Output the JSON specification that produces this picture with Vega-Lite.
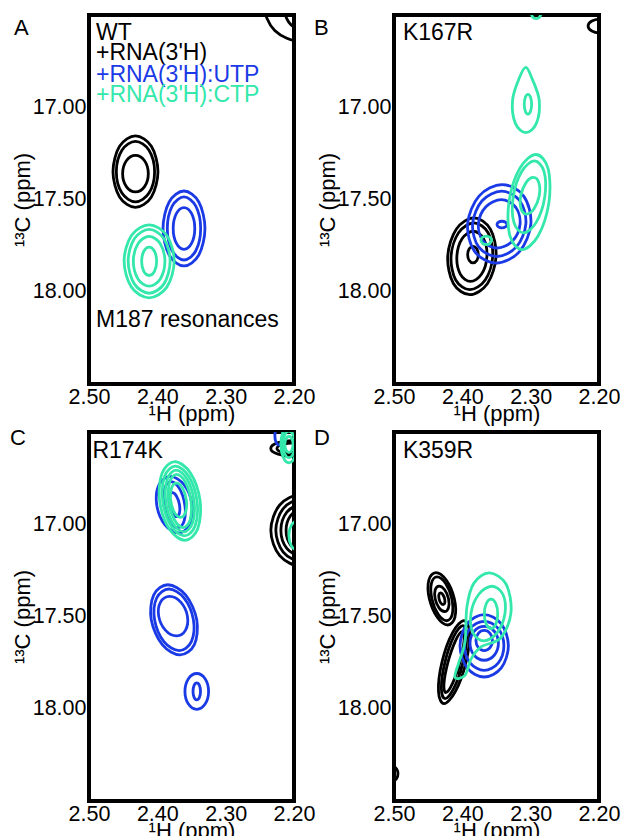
{
"$schema": "https://vega.github.io/schema/vega-lite/v6.json",
"padding": {"left": 8, "top": 13, "right": 0, "bottom": 0},
"background": "white",
"data": {"values": [
{"p":"A","k":"c","s":"apo","r":"A1","i":0,"h":2.3991,"c":17.349},{"p":"A","k":"c","s":"apo","r":"A1","i":1,"h":2.4087,"c":17.4862},{"p":"A","k":"c","s":"apo","r":"A1","i":2,"h":2.432,"c":17.543},{"p":"A","k":"c","s":"apo","r":"A1","i":3,"h":2.4553,"c":17.4862},{"p":"A","k":"c","s":"apo","r":"A1","i":4,"h":2.4649,"c":17.349},{"p":"A","k":"c","s":"apo","r":"A1","i":5,"h":2.4553,"c":17.2118},{"p":"A","k":"c","s":"apo","r":"A1","i":6,"h":2.432,"c":17.155},{"p":"A","k":"c","s":"apo","r":"A1","i":7,"h":2.4087,"c":17.2118},
{"p":"A","k":"c","s":"apo","r":"A2","i":0,"h":2.404,"c":17.349},{"p":"A","k":"c","s":"apo","r":"A2","i":1,"h":2.4122,"c":17.465},{"p":"A","k":"c","s":"apo","r":"A2","i":2,"h":2.432,"c":17.513},{"p":"A","k":"c","s":"apo","r":"A2","i":3,"h":2.4518,"c":17.465},{"p":"A","k":"c","s":"apo","r":"A2","i":4,"h":2.46,"c":17.349},{"p":"A","k":"c","s":"apo","r":"A2","i":5,"h":2.4518,"c":17.233},{"p":"A","k":"c","s":"apo","r":"A2","i":6,"h":2.432,"c":17.185},{"p":"A","k":"c","s":"apo","r":"A2","i":7,"h":2.4122,"c":17.233},
{"p":"A","k":"c","s":"apo","r":"A3","i":0,"h":2.4132,"c":17.36},{"p":"A","k":"c","s":"apo","r":"A3","i":1,"h":2.4187,"c":17.43},{"p":"A","k":"c","s":"apo","r":"A3","i":2,"h":2.432,"c":17.459},{"p":"A","k":"c","s":"apo","r":"A3","i":3,"h":2.4453,"c":17.43},{"p":"A","k":"c","s":"apo","r":"A3","i":4,"h":2.4508,"c":17.36},{"p":"A","k":"c","s":"apo","r":"A3","i":5,"h":2.4453,"c":17.29},{"p":"A","k":"c","s":"apo","r":"A3","i":6,"h":2.432,"c":17.261},{"p":"A","k":"c","s":"apo","r":"A3","i":7,"h":2.4187,"c":17.29},
{"p":"A","k":"c","s":"apo","r":"A4","i":0,"h":2.136,"c":16.443},{"p":"A","k":"c","s":"apo","r":"A4","i":1,"h":2.1518,"c":16.5844},{"p":"A","k":"c","s":"apo","r":"A4","i":2,"h":2.19,"c":16.643},{"p":"A","k":"c","s":"apo","r":"A4","i":3,"h":2.2282,"c":16.5844},{"p":"A","k":"c","s":"apo","r":"A4","i":4,"h":2.244,"c":16.443},{"p":"A","k":"c","s":"apo","r":"A4","i":5,"h":2.2282,"c":16.3016},{"p":"A","k":"c","s":"apo","r":"A4","i":6,"h":2.19,"c":16.243},{"p":"A","k":"c","s":"apo","r":"A4","i":7,"h":2.1518,"c":16.3016},
{"p":"A","k":"c","s":"apo","r":"A5","i":0,"h":2.165,"c":16.443},{"p":"A","k":"c","s":"apo","r":"A5","i":1,"h":2.1723,"c":16.5384},{"p":"A","k":"c","s":"apo","r":"A5","i":2,"h":2.19,"c":16.578},{"p":"A","k":"c","s":"apo","r":"A5","i":3,"h":2.2077,"c":16.5384},{"p":"A","k":"c","s":"apo","r":"A5","i":4,"h":2.215,"c":16.443},{"p":"A","k":"c","s":"apo","r":"A5","i":5,"h":2.2077,"c":16.3476},{"p":"A","k":"c","s":"apo","r":"A5","i":6,"h":2.19,"c":16.308},{"p":"A","k":"c","s":"apo","r":"A5","i":7,"h":2.1723,"c":16.3476},
{"p":"A","k":"c","s":"UTP","r":"A6","i":0,"h":2.3303,"c":17.657},{"p":"A","k":"c","s":"UTP","r":"A6","i":1,"h":2.3393,"c":17.8005},{"p":"A","k":"c","s":"UTP","r":"A6","i":2,"h":2.361,"c":17.86},{"p":"A","k":"c","s":"UTP","r":"A6","i":3,"h":2.3827,"c":17.8005},{"p":"A","k":"c","s":"UTP","r":"A6","i":4,"h":2.3917,"c":17.657},{"p":"A","k":"c","s":"UTP","r":"A6","i":5,"h":2.3827,"c":17.5135},{"p":"A","k":"c","s":"UTP","r":"A6","i":6,"h":2.361,"c":17.454},{"p":"A","k":"c","s":"UTP","r":"A6","i":7,"h":2.3393,"c":17.5135},
{"p":"A","k":"c","s":"UTP","r":"A7","i":0,"h":2.3366,"c":17.657},{"p":"A","k":"c","s":"UTP","r":"A7","i":1,"h":2.3437,"c":17.7779},{"p":"A","k":"c","s":"UTP","r":"A7","i":2,"h":2.361,"c":17.828},{"p":"A","k":"c","s":"UTP","r":"A7","i":3,"h":2.3783,"c":17.7779},{"p":"A","k":"c","s":"UTP","r":"A7","i":4,"h":2.3854,"c":17.657},{"p":"A","k":"c","s":"UTP","r":"A7","i":5,"h":2.3783,"c":17.5361},{"p":"A","k":"c","s":"UTP","r":"A7","i":6,"h":2.361,"c":17.486},{"p":"A","k":"c","s":"UTP","r":"A7","i":7,"h":2.3437,"c":17.5361},
{"p":"A","k":"c","s":"UTP","r":"A8","i":0,"h":2.3452,"c":17.657},{"p":"A","k":"c","s":"UTP","r":"A8","i":1,"h":2.3498,"c":17.7369},{"p":"A","k":"c","s":"UTP","r":"A8","i":2,"h":2.361,"c":17.77},{"p":"A","k":"c","s":"UTP","r":"A8","i":3,"h":2.3722,"c":17.7369},{"p":"A","k":"c","s":"UTP","r":"A8","i":4,"h":2.3768,"c":17.657},{"p":"A","k":"c","s":"UTP","r":"A8","i":5,"h":2.3722,"c":17.5771},{"p":"A","k":"c","s":"UTP","r":"A8","i":6,"h":2.361,"c":17.544},{"p":"A","k":"c","s":"UTP","r":"A8","i":7,"h":2.3498,"c":17.5771},
{"p":"A","k":"c","s":"CTP","r":"A9","i":0,"h":2.3754,"c":17.835},{"p":"A","k":"c","s":"CTP","r":"A9","i":1,"h":2.3861,"c":17.975},{"p":"A","k":"c","s":"CTP","r":"A9","i":2,"h":2.412,"c":18.033},{"p":"A","k":"c","s":"CTP","r":"A9","i":3,"h":2.4379,"c":17.975},{"p":"A","k":"c","s":"CTP","r":"A9","i":4,"h":2.4486,"c":17.835},{"p":"A","k":"c","s":"CTP","r":"A9","i":5,"h":2.4379,"c":17.695},{"p":"A","k":"c","s":"CTP","r":"A9","i":6,"h":2.412,"c":17.637},{"p":"A","k":"c","s":"CTP","r":"A9","i":7,"h":2.3861,"c":17.695},
{"p":"A","k":"c","s":"CTP","r":"A10","i":0,"h":2.3813,"c":17.835},{"p":"A","k":"c","s":"CTP","r":"A10","i":1,"h":2.3903,"c":17.9573},{"p":"A","k":"c","s":"CTP","r":"A10","i":2,"h":2.412,"c":18.008},{"p":"A","k":"c","s":"CTP","r":"A10","i":3,"h":2.4337,"c":17.9573},{"p":"A","k":"c","s":"CTP","r":"A10","i":4,"h":2.4427,"c":17.835},{"p":"A","k":"c","s":"CTP","r":"A10","i":5,"h":2.4337,"c":17.7127},{"p":"A","k":"c","s":"CTP","r":"A10","i":6,"h":2.412,"c":17.662},{"p":"A","k":"c","s":"CTP","r":"A10","i":7,"h":2.3903,"c":17.7127},
{"p":"A","k":"c","s":"CTP","r":"A11","i":0,"h":2.3889,"c":17.835},{"p":"A","k":"c","s":"CTP","r":"A11","i":1,"h":2.3957,"c":17.9304},{"p":"A","k":"c","s":"CTP","r":"A11","i":2,"h":2.412,"c":17.97},{"p":"A","k":"c","s":"CTP","r":"A11","i":3,"h":2.4283,"c":17.9304},{"p":"A","k":"c","s":"CTP","r":"A11","i":4,"h":2.4351,"c":17.835},{"p":"A","k":"c","s":"CTP","r":"A11","i":5,"h":2.4283,"c":17.7396},{"p":"A","k":"c","s":"CTP","r":"A11","i":6,"h":2.412,"c":17.7},{"p":"A","k":"c","s":"CTP","r":"A11","i":7,"h":2.3957,"c":17.7396},
{"p":"A","k":"c","s":"CTP","r":"A12","i":0,"h":2.401,"c":17.835},{"p":"A","k":"c","s":"CTP","r":"A12","i":1,"h":2.4042,"c":17.8894},{"p":"A","k":"c","s":"CTP","r":"A12","i":2,"h":2.412,"c":17.912},{"p":"A","k":"c","s":"CTP","r":"A12","i":3,"h":2.4198,"c":17.8894},{"p":"A","k":"c","s":"CTP","r":"A12","i":4,"h":2.423,"c":17.835},{"p":"A","k":"c","s":"CTP","r":"A12","i":5,"h":2.4198,"c":17.7806},{"p":"A","k":"c","s":"CTP","r":"A12","i":6,"h":2.412,"c":17.758},{"p":"A","k":"c","s":"CTP","r":"A12","i":7,"h":2.4042,"c":17.7806},
{"p":"B","k":"c","s":"apo","r":"B1","i":0,"h":2.3506,"c":17.808},{"p":"B","k":"c","s":"apo","r":"B1","i":1,"h":2.3631,"c":17.9551},{"p":"B","k":"c","s":"apo","r":"B1","i":2,"h":2.389,"c":18.016},{"p":"B","k":"c","s":"apo","r":"B1","i":3,"h":2.4131,"c":17.9551},{"p":"B","k":"c","s":"apo","r":"B1","i":4,"h":2.4214,"c":17.808},{"p":"B","k":"c","s":"apo","r":"B1","i":5,"h":2.4089,"c":17.6609},{"p":"B","k":"c","s":"apo","r":"B1","i":6,"h":2.383,"c":17.6},{"p":"B","k":"c","s":"apo","r":"B1","i":7,"h":2.3589,"c":17.6609},
{"p":"B","k":"c","s":"apo","r":"B2","i":0,"h":2.3555,"c":17.808},{"p":"B","k":"c","s":"apo","r":"B2","i":1,"h":2.3665,"c":17.936},{"p":"B","k":"c","s":"apo","r":"B2","i":2,"h":2.389,"c":17.989},{"p":"B","k":"c","s":"apo","r":"B2","i":3,"h":2.4097,"c":17.936},{"p":"B","k":"c","s":"apo","r":"B2","i":4,"h":2.4165,"c":17.808},{"p":"B","k":"c","s":"apo","r":"B2","i":5,"h":2.4055,"c":17.68},{"p":"B","k":"c","s":"apo","r":"B2","i":6,"h":2.383,"c":17.627},{"p":"B","k":"c","s":"apo","r":"B2","i":7,"h":2.3623,"c":17.68},
{"p":"B","k":"c","s":"apo","r":"B3","i":0,"h":2.364,"c":17.808},{"p":"B","k":"c","s":"apo","r":"B3","i":1,"h":2.3718,"c":17.9042},{"p":"B","k":"c","s":"apo","r":"B3","i":2,"h":2.388,"c":17.944},{"p":"B","k":"c","s":"apo","r":"B3","i":3,"h":2.403,"c":17.9042},{"p":"B","k":"c","s":"apo","r":"B3","i":4,"h":2.408,"c":17.808},{"p":"B","k":"c","s":"apo","r":"B3","i":5,"h":2.4002,"c":17.7118},{"p":"B","k":"c","s":"apo","r":"B3","i":6,"h":2.384,"c":17.672},{"p":"B","k":"c","s":"apo","r":"B3","i":7,"h":2.369,"c":17.7118},
{"p":"B","k":"c","s":"apo","r":"B4","i":0,"h":2.3766,"c":17.799},{"p":"B","k":"c","s":"apo","r":"B4","i":1,"h":2.3789,"c":17.8308},{"p":"B","k":"c","s":"apo","r":"B4","i":2,"h":2.3844,"c":17.844},{"p":"B","k":"c","s":"apo","r":"B4","i":3,"h":2.3899,"c":17.8308},{"p":"B","k":"c","s":"apo","r":"B4","i":4,"h":2.3922,"c":17.799},{"p":"B","k":"c","s":"apo","r":"B4","i":5,"h":2.3899,"c":17.7672},{"p":"B","k":"c","s":"apo","r":"B4","i":6,"h":2.3844,"c":17.754},{"p":"B","k":"c","s":"apo","r":"B4","i":7,"h":2.3789,"c":17.7672},
{"p":"B","k":"c","s":"apo","r":"B5","i":0,"h":2.178,"c":16.56},{"p":"B","k":"c","s":"apo","r":"B5","i":1,"h":2.1836,"c":16.5869},{"p":"B","k":"c","s":"apo","r":"B5","i":2,"h":2.197,"c":16.598},{"p":"B","k":"c","s":"apo","r":"B5","i":3,"h":2.2104,"c":16.5869},{"p":"B","k":"c","s":"apo","r":"B5","i":4,"h":2.216,"c":16.56},{"p":"B","k":"c","s":"apo","r":"B5","i":5,"h":2.2104,"c":16.5331},{"p":"B","k":"c","s":"apo","r":"B5","i":6,"h":2.197,"c":16.522},{"p":"B","k":"c","s":"apo","r":"B5","i":7,"h":2.1836,"c":16.5331},
{"p":"B","k":"c","s":"UTP","r":"B6","i":0,"h":2.2997,"c":17.632},{"p":"B","k":"c","s":"UTP","r":"B6","i":1,"h":2.3164,"c":17.7826},{"p":"B","k":"c","s":"UTP","r":"B6","i":2,"h":2.3504,"c":17.845},{"p":"B","k":"c","s":"UTP","r":"B6","i":3,"h":2.3818,"c":17.7826},{"p":"B","k":"c","s":"UTP","r":"B6","i":4,"h":2.3923,"c":17.632},{"p":"B","k":"c","s":"UTP","r":"B6","i":5,"h":2.3756,"c":17.4814},{"p":"B","k":"c","s":"UTP","r":"B6","i":6,"h":2.3416,"c":17.419},{"p":"B","k":"c","s":"UTP","r":"B6","i":7,"h":2.3102,"c":17.4814},
{"p":"B","k":"c","s":"UTP","r":"B7","i":0,"h":2.307,"c":17.632},{"p":"B","k":"c","s":"UTP","r":"B7","i":1,"h":2.3209,"c":17.7571},{"p":"B","k":"c","s":"UTP","r":"B7","i":2,"h":2.3495,"c":17.809},{"p":"B","k":"c","s":"UTP","r":"B7","i":3,"h":2.3761,"c":17.7571},{"p":"B","k":"c","s":"UTP","r":"B7","i":4,"h":2.385,"c":17.632},{"p":"B","k":"c","s":"UTP","r":"B7","i":5,"h":2.3711,"c":17.5069},{"p":"B","k":"c","s":"UTP","r":"B7","i":6,"h":2.3425,"c":17.455},{"p":"B","k":"c","s":"UTP","r":"B7","i":7,"h":2.3159,"c":17.5069},
{"p":"B","k":"c","s":"UTP","r":"B8","i":0,"h":2.3155,"c":17.632},{"p":"B","k":"c","s":"UTP","r":"B8","i":1,"h":2.3265,"c":17.7246},{"p":"B","k":"c","s":"UTP","r":"B8","i":2,"h":2.349,"c":17.763},{"p":"B","k":"c","s":"UTP","r":"B8","i":3,"h":2.3697,"c":17.7246},{"p":"B","k":"c","s":"UTP","r":"B8","i":4,"h":2.3765,"c":17.632},{"p":"B","k":"c","s":"UTP","r":"B8","i":5,"h":2.3655,"c":17.5394},{"p":"B","k":"c","s":"UTP","r":"B8","i":6,"h":2.343,"c":17.501},{"p":"B","k":"c","s":"UTP","r":"B8","i":7,"h":2.3223,"c":17.5394},
{"p":"B","k":"c","s":"UTP","r":"B9","i":0,"h":2.3347,"c":17.636},{"p":"B","k":"c","s":"UTP","r":"B9","i":1,"h":2.3368,"c":17.6487},{"p":"B","k":"c","s":"UTP","r":"B9","i":2,"h":2.342,"c":17.654},{"p":"B","k":"c","s":"UTP","r":"B9","i":3,"h":2.3472,"c":17.6487},{"p":"B","k":"c","s":"UTP","r":"B9","i":4,"h":2.3493,"c":17.636},{"p":"B","k":"c","s":"UTP","r":"B9","i":5,"h":2.3472,"c":17.6233},{"p":"B","k":"c","s":"UTP","r":"B9","i":6,"h":2.342,"c":17.618},{"p":"B","k":"c","s":"UTP","r":"B9","i":7,"h":2.3368,"c":17.6233},
{"p":"B","k":"c","s":"CTP","r":"B10","i":0,"h":2.2875,"c":16.961},{"p":"B","k":"c","s":"CTP","r":"B10","i":1,"h":2.2915,"c":17.0861},{"p":"B","k":"c","s":"CTP","r":"B10","i":2,"h":2.307,"c":17.138},{"p":"B","k":"c","s":"CTP","r":"B10","i":3,"h":2.3225,"c":17.0861},{"p":"B","k":"c","s":"CTP","r":"B10","i":4,"h":2.3265,"c":16.961},{"p":"B","k":"c","s":"CTP","r":"B10","i":5,"h":2.3165,"c":16.84},{"p":"B","k":"c","s":"CTP","r":"B10","i":6,"h":2.307,"c":16.784},{"p":"B","k":"c","s":"CTP","r":"B10","i":7,"h":2.2985,"c":16.84},
{"p":"B","k":"c","s":"CTP","r":"B11","i":0,"h":2.2986,"c":16.984},{"p":"B","k":"c","s":"CTP","r":"B11","i":1,"h":2.3002,"c":17.0222},{"p":"B","k":"c","s":"CTP","r":"B11","i":2,"h":2.304,"c":17.038},{"p":"B","k":"c","s":"CTP","r":"B11","i":3,"h":2.3078,"c":17.0222},{"p":"B","k":"c","s":"CTP","r":"B11","i":4,"h":2.3094,"c":16.984},{"p":"B","k":"c","s":"CTP","r":"B11","i":5,"h":2.3078,"c":16.9458},{"p":"B","k":"c","s":"CTP","r":"B11","i":6,"h":2.304,"c":16.93},{"p":"B","k":"c","s":"CTP","r":"B11","i":7,"h":2.3002,"c":16.9458},
{"p":"B","k":"c","s":"CTP","r":"B12","i":0,"h":2.2732,"c":17.514},{"p":"B","k":"c","s":"CTP","r":"B12","i":1,"h":2.289,"c":17.6964},{"p":"B","k":"c","s":"CTP","r":"B12","i":2,"h":2.3127,"c":17.772},{"p":"B","k":"c","s":"CTP","r":"B12","i":3,"h":2.3304,"c":17.6964},{"p":"B","k":"c","s":"CTP","r":"B12","i":4,"h":2.3318,"c":17.514},{"p":"B","k":"c","s":"CTP","r":"B12","i":5,"h":2.316,"c":17.3316},{"p":"B","k":"c","s":"CTP","r":"B12","i":6,"h":2.2923,"c":17.256},{"p":"B","k":"c","s":"CTP","r":"B12","i":7,"h":2.2746,"c":17.3316},
{"p":"B","k":"c","s":"CTP","r":"B13","i":0,"h":2.2794,"c":17.486},{"p":"B","k":"c","s":"CTP","r":"B13","i":1,"h":2.2919,"c":17.6239},{"p":"B","k":"c","s":"CTP","r":"B13","i":2,"h":2.3105,"c":17.681},{"p":"B","k":"c","s":"CTP","r":"B13","i":3,"h":2.3245,"c":17.6239},{"p":"B","k":"c","s":"CTP","r":"B13","i":4,"h":2.3256,"c":17.486},{"p":"B","k":"c","s":"CTP","r":"B13","i":5,"h":2.3131,"c":17.3481},{"p":"B","k":"c","s":"CTP","r":"B13","i":6,"h":2.2945,"c":17.291},{"p":"B","k":"c","s":"CTP","r":"B13","i":7,"h":2.2805,"c":17.3481},
{"p":"B","k":"c","s":"CTP","r":"B14","i":0,"h":2.2875,"c":17.48},{"p":"B","k":"c","s":"CTP","r":"B14","i":1,"h":2.295,"c":17.5503},{"p":"B","k":"c","s":"CTP","r":"B14","i":2,"h":2.306,"c":17.5795},{"p":"B","k":"c","s":"CTP","r":"B14","i":3,"h":2.314,"c":17.5503},{"p":"B","k":"c","s":"CTP","r":"B14","i":4,"h":2.3145,"c":17.48},{"p":"B","k":"c","s":"CTP","r":"B14","i":5,"h":2.307,"c":17.4097},{"p":"B","k":"c","s":"CTP","r":"B14","i":6,"h":2.296,"c":17.3805},{"p":"B","k":"c","s":"CTP","r":"B14","i":7,"h":2.288,"c":17.4097},
{"p":"B","k":"c","s":"CTP","r":"B15","i":0,"h":2.3572,"c":17.721},{"p":"B","k":"c","s":"CTP","r":"B15","i":1,"h":2.3595,"c":17.7373},{"p":"B","k":"c","s":"CTP","r":"B15","i":2,"h":2.365,"c":17.744},{"p":"B","k":"c","s":"CTP","r":"B15","i":3,"h":2.3705,"c":17.7373},{"p":"B","k":"c","s":"CTP","r":"B15","i":4,"h":2.3728,"c":17.721},{"p":"B","k":"c","s":"CTP","r":"B15","i":5,"h":2.3705,"c":17.7047},{"p":"B","k":"c","s":"CTP","r":"B15","i":6,"h":2.365,"c":17.698},{"p":"B","k":"c","s":"CTP","r":"B15","i":7,"h":2.3595,"c":17.7047},
{"p":"B","k":"c","s":"CTP","r":"B16","i":0,"h":2.285,"c":16.49},{"p":"B","k":"c","s":"CTP","r":"B16","i":1,"h":2.287,"c":16.5112},{"p":"B","k":"c","s":"CTP","r":"B16","i":2,"h":2.292,"c":16.52},{"p":"B","k":"c","s":"CTP","r":"B16","i":3,"h":2.297,"c":16.5112},{"p":"B","k":"c","s":"CTP","r":"B16","i":4,"h":2.299,"c":16.49},{"p":"B","k":"c","s":"CTP","r":"B16","i":5,"h":2.297,"c":16.4688},{"p":"B","k":"c","s":"CTP","r":"B16","i":6,"h":2.292,"c":16.46},{"p":"B","k":"c","s":"CTP","r":"B16","i":7,"h":2.287,"c":16.4688},
{"p":"C","k":"c","s":"apo","r":"C1","i":0,"h":2.1453,"c":17.033},{"p":"C","k":"c","s":"apo","r":"C1","i":1,"h":2.1583,"c":17.1702},{"p":"C","k":"c","s":"apo","r":"C1","i":2,"h":2.1896,"c":17.227},{"p":"C","k":"c","s":"apo","r":"C1","i":3,"h":2.2209,"c":17.1702},{"p":"C","k":"c","s":"apo","r":"C1","i":4,"h":2.2339,"c":17.033},{"p":"C","k":"c","s":"apo","r":"C1","i":5,"h":2.2209,"c":16.8958},{"p":"C","k":"c","s":"apo","r":"C1","i":6,"h":2.1896,"c":16.839},{"p":"C","k":"c","s":"apo","r":"C1","i":7,"h":2.1583,"c":16.8958},
{"p":"C","k":"c","s":"apo","r":"C2","i":0,"h":2.1526,"c":17.033},{"p":"C","k":"c","s":"apo","r":"C2","i":1,"h":2.1634,"c":17.1511},{"p":"C","k":"c","s":"apo","r":"C2","i":2,"h":2.1896,"c":17.2},{"p":"C","k":"c","s":"apo","r":"C2","i":3,"h":2.2158,"c":17.1511},{"p":"C","k":"c","s":"apo","r":"C2","i":4,"h":2.2266,"c":17.033},{"p":"C","k":"c","s":"apo","r":"C2","i":5,"h":2.2158,"c":16.9149},{"p":"C","k":"c","s":"apo","r":"C2","i":6,"h":2.1896,"c":16.866},{"p":"C","k":"c","s":"apo","r":"C2","i":7,"h":2.1634,"c":16.9149},
{"p":"C","k":"c","s":"apo","r":"C3","i":0,"h":2.16,"c":17.033},{"p":"C","k":"c","s":"apo","r":"C3","i":1,"h":2.1687,"c":17.1313},{"p":"C","k":"c","s":"apo","r":"C3","i":2,"h":2.1896,"c":17.172},{"p":"C","k":"c","s":"apo","r":"C3","i":3,"h":2.2105,"c":17.1313},{"p":"C","k":"c","s":"apo","r":"C3","i":4,"h":2.2192,"c":17.033},{"p":"C","k":"c","s":"apo","r":"C3","i":5,"h":2.2105,"c":16.9347},{"p":"C","k":"c","s":"apo","r":"C3","i":6,"h":2.1896,"c":16.894},{"p":"C","k":"c","s":"apo","r":"C3","i":7,"h":2.1687,"c":16.9347},
{"p":"C","k":"c","s":"apo","r":"C4","i":0,"h":2.1676,"c":17.033},{"p":"C","k":"c","s":"apo","r":"C4","i":1,"h":2.174,"c":17.1115},{"p":"C","k":"c","s":"apo","r":"C4","i":2,"h":2.1896,"c":17.144},{"p":"C","k":"c","s":"apo","r":"C4","i":3,"h":2.2052,"c":17.1115},{"p":"C","k":"c","s":"apo","r":"C4","i":4,"h":2.2116,"c":17.033},{"p":"C","k":"c","s":"apo","r":"C4","i":5,"h":2.2052,"c":16.9545},{"p":"C","k":"c","s":"apo","r":"C4","i":6,"h":2.1896,"c":16.922},{"p":"C","k":"c","s":"apo","r":"C4","i":7,"h":2.174,"c":16.9545},
{"p":"C","k":"c","s":"apo","r":"C5","i":0,"h":2.16,"c":16.589},{"p":"C","k":"c","s":"apo","r":"C5","i":1,"h":2.1708,"c":16.6201},{"p":"C","k":"c","s":"apo","r":"C5","i":2,"h":2.197,"c":16.633},{"p":"C","k":"c","s":"apo","r":"C5","i":3,"h":2.2232,"c":16.6201},{"p":"C","k":"c","s":"apo","r":"C5","i":4,"h":2.234,"c":16.589},{"p":"C","k":"c","s":"apo","r":"C5","i":5,"h":2.2232,"c":16.5579},{"p":"C","k":"c","s":"apo","r":"C5","i":6,"h":2.197,"c":16.545},{"p":"C","k":"c","s":"apo","r":"C5","i":7,"h":2.1708,"c":16.5579},
{"p":"C","k":"c","s":"apo","r":"C6","i":0,"h":2.169,"c":16.589},{"p":"C","k":"c","s":"apo","r":"C6","i":1,"h":2.1772,"c":16.6102},{"p":"C","k":"c","s":"apo","r":"C6","i":2,"h":2.197,"c":16.619},{"p":"C","k":"c","s":"apo","r":"C6","i":3,"h":2.2168,"c":16.6102},{"p":"C","k":"c","s":"apo","r":"C6","i":4,"h":2.225,"c":16.589},{"p":"C","k":"c","s":"apo","r":"C6","i":5,"h":2.2168,"c":16.5678},{"p":"C","k":"c","s":"apo","r":"C6","i":6,"h":2.197,"c":16.559},{"p":"C","k":"c","s":"apo","r":"C6","i":7,"h":2.1772,"c":16.5678},
{"p":"C","k":"c","s":"UTP","r":"C7","i":0,"h":2.3491,"c":16.894},{"p":"C","k":"c","s":"UTP","r":"C7","i":1,"h":2.3525,"c":17.0022},{"p":"C","k":"c","s":"UTP","r":"C7","i":2,"h":2.3691,"c":17.047},{"p":"C","k":"c","s":"UTP","r":"C7","i":3,"h":2.3891,"c":17.0022},{"p":"C","k":"c","s":"UTP","r":"C7","i":4,"h":2.4009,"c":16.894},{"p":"C","k":"c","s":"UTP","r":"C7","i":5,"h":2.3975,"c":16.7858},{"p":"C","k":"c","s":"UTP","r":"C7","i":6,"h":2.3809,"c":16.741},{"p":"C","k":"c","s":"UTP","r":"C7","i":7,"h":2.3609,"c":16.7858},
{"p":"C","k":"c","s":"UTP","r":"C8","i":0,"h":2.3598,"c":16.894},{"p":"C","k":"c","s":"UTP","r":"C8","i":1,"h":2.3608,"c":16.9824},{"p":"C","k":"c","s":"UTP","r":"C8","i":2,"h":2.37,"c":17.019},{"p":"C","k":"c","s":"UTP","r":"C8","i":3,"h":2.3822,"c":16.9824},{"p":"C","k":"c","s":"UTP","r":"C8","i":4,"h":2.3902,"c":16.894},{"p":"C","k":"c","s":"UTP","r":"C8","i":5,"h":2.3892,"c":16.8056},{"p":"C","k":"c","s":"UTP","r":"C8","i":6,"h":2.38,"c":16.769},{"p":"C","k":"c","s":"UTP","r":"C8","i":7,"h":2.3678,"c":16.8056},
{"p":"C","k":"c","s":"UTP","r":"C9","i":0,"h":2.3676,"c":16.894},{"p":"C","k":"c","s":"UTP","r":"C9","i":1,"h":2.3677,"c":16.94},{"p":"C","k":"c","s":"UTP","r":"C9","i":2,"h":2.372,"c":16.959},{"p":"C","k":"c","s":"UTP","r":"C9","i":3,"h":2.3781,"c":16.94},{"p":"C","k":"c","s":"UTP","r":"C9","i":4,"h":2.3824,"c":16.894},{"p":"C","k":"c","s":"UTP","r":"C9","i":5,"h":2.3823,"c":16.848},{"p":"C","k":"c","s":"UTP","r":"C9","i":6,"h":2.378,"c":16.829},{"p":"C","k":"c","s":"UTP","r":"C9","i":7,"h":2.3719,"c":16.848},
{"p":"C","k":"c","s":"UTP","r":"C10","i":0,"h":2.3423,"c":17.518},{"p":"C","k":"c","s":"UTP","r":"C10","i":1,"h":2.3458,"c":17.6523},{"p":"C","k":"c","s":"UTP","r":"C10","i":2,"h":2.3667,"c":17.708},{"p":"C","k":"c","s":"UTP","r":"C10","i":3,"h":2.3928,"c":17.6523},{"p":"C","k":"c","s":"UTP","r":"C10","i":4,"h":2.4089,"c":17.518},{"p":"C","k":"c","s":"UTP","r":"C10","i":5,"h":2.4054,"c":17.3837},{"p":"C","k":"c","s":"UTP","r":"C10","i":6,"h":2.3845,"c":17.328},{"p":"C","k":"c","s":"UTP","r":"C10","i":7,"h":2.3584,"c":17.3837},
{"p":"C","k":"c","s":"UTP","r":"C11","i":0,"h":2.3472,"c":17.518},{"p":"C","k":"c","s":"UTP","r":"C11","i":1,"h":2.3502,"c":17.6361},{"p":"C","k":"c","s":"UTP","r":"C11","i":2,"h":2.3681,"c":17.685},{"p":"C","k":"c","s":"UTP","r":"C11","i":3,"h":2.3904,"c":17.6361},{"p":"C","k":"c","s":"UTP","r":"C11","i":4,"h":2.404,"c":17.518},{"p":"C","k":"c","s":"UTP","r":"C11","i":5,"h":2.401,"c":17.3999},{"p":"C","k":"c","s":"UTP","r":"C11","i":6,"h":2.3831,"c":17.351},{"p":"C","k":"c","s":"UTP","r":"C11","i":7,"h":2.3608,"c":17.3999},
{"p":"C","k":"c","s":"UTP","r":"C12","i":0,"h":2.356,"c":17.498},{"p":"C","k":"c","s":"UTP","r":"C12","i":1,"h":2.3587,"c":17.5736},{"p":"C","k":"c","s":"UTP","r":"C12","i":2,"h":2.372,"c":17.605},{"p":"C","k":"c","s":"UTP","r":"C12","i":3,"h":2.3883,"c":17.5736},{"p":"C","k":"c","s":"UTP","r":"C12","i":4,"h":2.398,"c":17.498},{"p":"C","k":"c","s":"UTP","r":"C12","i":5,"h":2.3953,"c":17.4224},{"p":"C","k":"c","s":"UTP","r":"C12","i":6,"h":2.382,"c":17.391},{"p":"C","k":"c","s":"UTP","r":"C12","i":7,"h":2.3657,"c":17.4224},
{"p":"C","k":"c","s":"UTP","r":"C13","i":0,"h":2.325,"c":17.906},{"p":"C","k":"c","s":"UTP","r":"C13","i":1,"h":2.3301,"c":17.9746},{"p":"C","k":"c","s":"UTP","r":"C13","i":2,"h":2.3423,"c":18.003},{"p":"C","k":"c","s":"UTP","r":"C13","i":3,"h":2.3545,"c":17.9746},{"p":"C","k":"c","s":"UTP","r":"C13","i":4,"h":2.3596,"c":17.906},{"p":"C","k":"c","s":"UTP","r":"C13","i":5,"h":2.3545,"c":17.8374},{"p":"C","k":"c","s":"UTP","r":"C13","i":6,"h":2.3423,"c":17.809},{"p":"C","k":"c","s":"UTP","r":"C13","i":7,"h":2.3301,"c":17.8374},
{"p":"C","k":"c","s":"UTP","r":"C14","i":0,"h":2.3368,"c":17.906},{"p":"C","k":"c","s":"UTP","r":"C14","i":1,"h":2.3384,"c":17.9385},{"p":"C","k":"c","s":"UTP","r":"C14","i":2,"h":2.3423,"c":17.952},{"p":"C","k":"c","s":"UTP","r":"C14","i":3,"h":2.3462,"c":17.9385},{"p":"C","k":"c","s":"UTP","r":"C14","i":4,"h":2.3478,"c":17.906},{"p":"C","k":"c","s":"UTP","r":"C14","i":5,"h":2.3462,"c":17.8735},{"p":"C","k":"c","s":"UTP","r":"C14","i":6,"h":2.3423,"c":17.86},{"p":"C","k":"c","s":"UTP","r":"C14","i":7,"h":2.3384,"c":17.8735},
{"p":"C","k":"c","s":"UTP","r":"C15","i":0,"h":2.216,"c":16.52},{"p":"C","k":"c","s":"UTP","r":"C15","i":1,"h":2.2178,"c":16.5554},{"p":"C","k":"c","s":"UTP","r":"C15","i":2,"h":2.222,"c":16.57},{"p":"C","k":"c","s":"UTP","r":"C15","i":3,"h":2.2262,"c":16.5554},{"p":"C","k":"c","s":"UTP","r":"C15","i":4,"h":2.228,"c":16.52},{"p":"C","k":"c","s":"UTP","r":"C15","i":5,"h":2.2262,"c":16.4846},{"p":"C","k":"c","s":"UTP","r":"C15","i":6,"h":2.222,"c":16.47},{"p":"C","k":"c","s":"UTP","r":"C15","i":7,"h":2.2178,"c":16.4846},
{"p":"C","k":"c","s":"CTP","r":"C16","i":0,"h":2.3374,"c":16.874},{"p":"C","k":"c","s":"CTP","r":"C16","i":1,"h":2.3409,"c":17.0246},{"p":"C","k":"c","s":"CTP","r":"C16","i":2,"h":2.3596,"c":17.087},{"p":"C","k":"c","s":"CTP","r":"C16","i":3,"h":2.3827,"c":17.0246},{"p":"C","k":"c","s":"CTP","r":"C16","i":4,"h":2.3966,"c":16.874},{"p":"C","k":"c","s":"CTP","r":"C16","i":5,"h":2.3931,"c":16.7234},{"p":"C","k":"c","s":"CTP","r":"C16","i":6,"h":2.3744,"c":16.661},{"p":"C","k":"c","s":"CTP","r":"C16","i":7,"h":2.3513,"c":16.7234},
{"p":"C","k":"c","s":"CTP","r":"C17","i":0,"h":2.3419,"c":16.874},{"p":"C","k":"c","s":"CTP","r":"C17","i":1,"h":2.3447,"c":17.0076},{"p":"C","k":"c","s":"CTP","r":"C17","i":2,"h":2.3605,"c":17.063},{"p":"C","k":"c","s":"CTP","r":"C17","i":3,"h":2.3801,"c":17.0076},{"p":"C","k":"c","s":"CTP","r":"C17","i":4,"h":2.3921,"c":16.874},{"p":"C","k":"c","s":"CTP","r":"C17","i":5,"h":2.3893,"c":16.7404},{"p":"C","k":"c","s":"CTP","r":"C17","i":6,"h":2.3735,"c":16.685},{"p":"C","k":"c","s":"CTP","r":"C17","i":7,"h":2.3539,"c":16.7404},
{"p":"C","k":"c","s":"CTP","r":"C18","i":0,"h":2.3463,"c":16.874},{"p":"C","k":"c","s":"CTP","r":"C18","i":1,"h":2.3485,"c":16.9921},{"p":"C","k":"c","s":"CTP","r":"C18","i":2,"h":2.3615,"c":17.041},{"p":"C","k":"c","s":"CTP","r":"C18","i":3,"h":2.3777,"c":16.9921},{"p":"C","k":"c","s":"CTP","r":"C18","i":4,"h":2.3877,"c":16.874},{"p":"C","k":"c","s":"CTP","r":"C18","i":5,"h":2.3855,"c":16.7559},{"p":"C","k":"c","s":"CTP","r":"C18","i":6,"h":2.3725,"c":16.707},{"p":"C","k":"c","s":"CTP","r":"C18","i":7,"h":2.3563,"c":16.7559},
{"p":"C","k":"c","s":"CTP","r":"C19","i":0,"h":2.3507,"c":16.874},{"p":"C","k":"c","s":"CTP","r":"C19","i":1,"h":2.352,"c":16.9758},{"p":"C","k":"c","s":"CTP","r":"C19","i":2,"h":2.362,"c":17.018},{"p":"C","k":"c","s":"CTP","r":"C19","i":3,"h":2.375,"c":16.9758},{"p":"C","k":"c","s":"CTP","r":"C19","i":4,"h":2.3833,"c":16.874},{"p":"C","k":"c","s":"CTP","r":"C19","i":5,"h":2.382,"c":16.7722},{"p":"C","k":"c","s":"CTP","r":"C19","i":6,"h":2.372,"c":16.73},{"p":"C","k":"c","s":"CTP","r":"C19","i":7,"h":2.359,"c":16.7722},
{"p":"C","k":"c","s":"CTP","r":"C20","i":0,"h":2.3575,"c":16.87},{"p":"C","k":"c","s":"CTP","r":"C20","i":1,"h":2.3588,"c":16.9358},{"p":"C","k":"c","s":"CTP","r":"C20","i":2,"h":2.366,"c":16.963},{"p":"C","k":"c","s":"CTP","r":"C20","i":3,"h":2.375,"c":16.9358},{"p":"C","k":"c","s":"CTP","r":"C20","i":4,"h":2.3805,"c":16.87},{"p":"C","k":"c","s":"CTP","r":"C20","i":5,"h":2.3792,"c":16.8042},{"p":"C","k":"c","s":"CTP","r":"C20","i":6,"h":2.372,"c":16.777},{"p":"C","k":"c","s":"CTP","r":"C20","i":7,"h":2.363,"c":16.8042},
{"p":"C","k":"c","s":"CTP","r":"C21","i":0,"h":2.1956,"c":16.567},{"p":"C","k":"c","s":"CTP","r":"C21","i":1,"h":2.1991,"c":16.6377},{"p":"C","k":"c","s":"CTP","r":"C21","i":2,"h":2.2074,"c":16.667},{"p":"C","k":"c","s":"CTP","r":"C21","i":3,"h":2.2157,"c":16.6377},{"p":"C","k":"c","s":"CTP","r":"C21","i":4,"h":2.2192,"c":16.567},{"p":"C","k":"c","s":"CTP","r":"C21","i":5,"h":2.2157,"c":16.4963},{"p":"C","k":"c","s":"CTP","r":"C21","i":6,"h":2.2074,"c":16.467},{"p":"C","k":"c","s":"CTP","r":"C21","i":7,"h":2.1991,"c":16.4963},
{"p":"C","k":"c","s":"CTP","r":"C22","i":0,"h":2.1985,"c":16.567},{"p":"C","k":"c","s":"CTP","r":"C22","i":1,"h":2.2011,"c":16.6179},{"p":"C","k":"c","s":"CTP","r":"C22","i":2,"h":2.2074,"c":16.639},{"p":"C","k":"c","s":"CTP","r":"C22","i":3,"h":2.2137,"c":16.6179},{"p":"C","k":"c","s":"CTP","r":"C22","i":4,"h":2.2163,"c":16.567},{"p":"C","k":"c","s":"CTP","r":"C22","i":5,"h":2.2137,"c":16.5161},{"p":"C","k":"c","s":"CTP","r":"C22","i":6,"h":2.2074,"c":16.495},{"p":"C","k":"c","s":"CTP","r":"C22","i":7,"h":2.2011,"c":16.5161},
{"p":"C","k":"c","s":"CTP","r":"C23","i":0,"h":2.2014,"c":16.567},{"p":"C","k":"c","s":"CTP","r":"C23","i":1,"h":2.2032,"c":16.5981},{"p":"C","k":"c","s":"CTP","r":"C23","i":2,"h":2.2074,"c":16.611},{"p":"C","k":"c","s":"CTP","r":"C23","i":3,"h":2.2116,"c":16.5981},{"p":"C","k":"c","s":"CTP","r":"C23","i":4,"h":2.2134,"c":16.567},{"p":"C","k":"c","s":"CTP","r":"C23","i":5,"h":2.2116,"c":16.5359},{"p":"C","k":"c","s":"CTP","r":"C23","i":6,"h":2.2074,"c":16.523},{"p":"C","k":"c","s":"CTP","r":"C23","i":7,"h":2.2032,"c":16.5359},
{"p":"C","k":"c","s":"CTP","r":"C24","i":0,"h":2.1835,"c":17.061},{"p":"C","k":"c","s":"CTP","r":"C24","i":1,"h":2.187,"c":17.1161},{"p":"C","k":"c","s":"CTP","r":"C24","i":2,"h":2.1955,"c":17.139},{"p":"C","k":"c","s":"CTP","r":"C24","i":3,"h":2.204,"c":17.1161},{"p":"C","k":"c","s":"CTP","r":"C24","i":4,"h":2.2075,"c":17.061},{"p":"C","k":"c","s":"CTP","r":"C24","i":5,"h":2.204,"c":17.0059},{"p":"C","k":"c","s":"CTP","r":"C24","i":6,"h":2.1955,"c":16.983},{"p":"C","k":"c","s":"CTP","r":"C24","i":7,"h":2.187,"c":17.0059},
{"p":"D","k":"c","s":"apo","r":"D1","i":0,"h":2.4117,"c":17.404},{"p":"D","k":"c","s":"apo","r":"D1","i":1,"h":2.4109,"c":17.5044},{"p":"D","k":"c","s":"apo","r":"D1","i":2,"h":2.4212,"c":17.546},{"p":"D","k":"c","s":"apo","r":"D1","i":3,"h":2.4367,"c":17.5044},{"p":"D","k":"c","s":"apo","r":"D1","i":4,"h":2.4483,"c":17.404},{"p":"D","k":"c","s":"apo","r":"D1","i":5,"h":2.4491,"c":17.3036},{"p":"D","k":"c","s":"apo","r":"D1","i":6,"h":2.4388,"c":17.262},{"p":"D","k":"c","s":"apo","r":"D1","i":7,"h":2.4233,"c":17.3036},
{"p":"D","k":"c","s":"apo","r":"D2","i":0,"h":2.4154,"c":17.404},{"p":"D","k":"c","s":"apo","r":"D2","i":1,"h":2.4148,"c":17.4881},{"p":"D","k":"c","s":"apo","r":"D2","i":2,"h":2.423,"c":17.523},{"p":"D","k":"c","s":"apo","r":"D2","i":3,"h":2.4354,"c":17.4881},{"p":"D","k":"c","s":"apo","r":"D2","i":4,"h":2.4446,"c":17.404},{"p":"D","k":"c","s":"apo","r":"D2","i":5,"h":2.4452,"c":17.3199},{"p":"D","k":"c","s":"apo","r":"D2","i":6,"h":2.437,"c":17.285},{"p":"D","k":"c","s":"apo","r":"D2","i":7,"h":2.4246,"c":17.3199},
{"p":"D","k":"c","s":"apo","r":"D3","i":0,"h":2.4202,"c":17.404},{"p":"D","k":"c","s":"apo","r":"D3","i":1,"h":2.4203,"c":17.4528},{"p":"D","k":"c","s":"apo","r":"D3","i":2,"h":2.426,"c":17.473},{"p":"D","k":"c","s":"apo","r":"D3","i":3,"h":2.4341,"c":17.4528},{"p":"D","k":"c","s":"apo","r":"D3","i":4,"h":2.4398,"c":17.404},{"p":"D","k":"c","s":"apo","r":"D3","i":5,"h":2.4397,"c":17.3552},{"p":"D","k":"c","s":"apo","r":"D3","i":6,"h":2.434,"c":17.335},{"p":"D","k":"c","s":"apo","r":"D3","i":7,"h":2.4259,"c":17.3552},
{"p":"D","k":"c","s":"apo","r":"D4","i":0,"h":2.4259,"c":17.404},{"p":"D","k":"c","s":"apo","r":"D4","i":1,"h":2.4257,"c":17.4266},{"p":"D","k":"c","s":"apo","r":"D4","i":2,"h":2.428,"c":17.436},{"p":"D","k":"c","s":"apo","r":"D4","i":3,"h":2.4315,"c":17.4266},{"p":"D","k":"c","s":"apo","r":"D4","i":4,"h":2.4341,"c":17.404},{"p":"D","k":"c","s":"apo","r":"D4","i":5,"h":2.4343,"c":17.3814},{"p":"D","k":"c","s":"apo","r":"D4","i":6,"h":2.432,"c":17.372},{"p":"D","k":"c","s":"apo","r":"D4","i":7,"h":2.4285,"c":17.3814},
{"p":"D","k":"c","s":"apo","r":"D5","i":0,"h":2.3946,"c":17.747},{"p":"D","k":"c","s":"apo","r":"D5","i":1,"h":2.4101,"c":17.9061},{"p":"D","k":"c","s":"apo","r":"D5","i":2,"h":2.4268,"c":17.972},{"p":"D","k":"c","s":"apo","r":"D5","i":3,"h":2.4349,"c":17.9061},{"p":"D","k":"c","s":"apo","r":"D5","i":4,"h":2.4298,"c":17.747},{"p":"D","k":"c","s":"apo","r":"D5","i":5,"h":2.4143,"c":17.5879},{"p":"D","k":"c","s":"apo","r":"D5","i":6,"h":2.3976,"c":17.522},{"p":"D","k":"c","s":"apo","r":"D5","i":7,"h":2.3895,"c":17.5879},
{"p":"D","k":"c","s":"apo","r":"D6","i":0,"h":2.399,"c":17.747},{"p":"D","k":"c","s":"apo","r":"D6","i":1,"h":2.4121,"c":17.887},{"p":"D","k":"c","s":"apo","r":"D6","i":2,"h":2.4252,"c":17.945},{"p":"D","k":"c","s":"apo","r":"D6","i":3,"h":2.4307,"c":17.887},{"p":"D","k":"c","s":"apo","r":"D6","i":4,"h":2.4254,"c":17.747},{"p":"D","k":"c","s":"apo","r":"D6","i":5,"h":2.4123,"c":17.607},{"p":"D","k":"c","s":"apo","r":"D6","i":6,"h":2.3992,"c":17.549},{"p":"D","k":"c","s":"apo","r":"D6","i":7,"h":2.3937,"c":17.607},
{"p":"D","k":"c","s":"apo","r":"D7","i":0,"h":2.4034,"c":17.747},{"p":"D","k":"c","s":"apo","r":"D7","i":1,"h":2.4145,"c":17.8637},{"p":"D","k":"c","s":"apo","r":"D7","i":2,"h":2.4242,"c":17.912},{"p":"D","k":"c","s":"apo","r":"D7","i":3,"h":2.4269,"c":17.8637},{"p":"D","k":"c","s":"apo","r":"D7","i":4,"h":2.421,"c":17.747},{"p":"D","k":"c","s":"apo","r":"D7","i":5,"h":2.4099,"c":17.6303},{"p":"D","k":"c","s":"apo","r":"D7","i":6,"h":2.4002,"c":17.582},{"p":"D","k":"c","s":"apo","r":"D7","i":7,"h":2.3975,"c":17.6303},
{"p":"D","k":"c","s":"apo","r":"D8","i":0,"h":2.402,"c":17.791},{"p":"D","k":"c","s":"apo","r":"D8","i":1,"h":2.4029,"c":17.8016},{"p":"D","k":"c","s":"apo","r":"D8","i":2,"h":2.405,"c":17.806},{"p":"D","k":"c","s":"apo","r":"D8","i":3,"h":2.4071,"c":17.8016},{"p":"D","k":"c","s":"apo","r":"D8","i":4,"h":2.408,"c":17.791},{"p":"D","k":"c","s":"apo","r":"D8","i":5,"h":2.4071,"c":17.7804},{"p":"D","k":"c","s":"apo","r":"D8","i":6,"h":2.405,"c":17.776},{"p":"D","k":"c","s":"apo","r":"D8","i":7,"h":2.4029,"c":17.7804},
{"p":"D","k":"c","s":"apo","r":"D9","i":0,"h":2.4942,"c":18.352},{"p":"D","k":"c","s":"apo","r":"D9","i":1,"h":2.4963,"c":18.3789},{"p":"D","k":"c","s":"apo","r":"D9","i":2,"h":2.5015,"c":18.39},{"p":"D","k":"c","s":"apo","r":"D9","i":3,"h":2.5067,"c":18.3789},{"p":"D","k":"c","s":"apo","r":"D9","i":4,"h":2.5088,"c":18.352},{"p":"D","k":"c","s":"apo","r":"D9","i":5,"h":2.5067,"c":18.3251},{"p":"D","k":"c","s":"apo","r":"D9","i":6,"h":2.5015,"c":18.314},{"p":"D","k":"c","s":"apo","r":"D9","i":7,"h":2.4963,"c":18.3251},
{"p":"D","k":"c","s":"UTP","r":"D10","i":0,"h":2.3326,"c":17.659},{"p":"D","k":"c","s":"UTP","r":"D10","i":1,"h":2.343,"c":17.7785},{"p":"D","k":"c","s":"UTP","r":"D10","i":2,"h":2.368,"c":17.828},{"p":"D","k":"c","s":"UTP","r":"D10","i":3,"h":2.393,"c":17.7785},{"p":"D","k":"c","s":"UTP","r":"D10","i":4,"h":2.4034,"c":17.659},{"p":"D","k":"c","s":"UTP","r":"D10","i":5,"h":2.393,"c":17.5395},{"p":"D","k":"c","s":"UTP","r":"D10","i":6,"h":2.368,"c":17.49},{"p":"D","k":"c","s":"UTP","r":"D10","i":7,"h":2.343,"c":17.5395},
{"p":"D","k":"c","s":"UTP","r":"D11","i":0,"h":2.3392,"c":17.659},{"p":"D","k":"c","s":"UTP","r":"D11","i":1,"h":2.3476,"c":17.753},{"p":"D","k":"c","s":"UTP","r":"D11","i":2,"h":2.368,"c":17.792},{"p":"D","k":"c","s":"UTP","r":"D11","i":3,"h":2.3884,"c":17.753},{"p":"D","k":"c","s":"UTP","r":"D11","i":4,"h":2.3968,"c":17.659},{"p":"D","k":"c","s":"UTP","r":"D11","i":5,"h":2.3884,"c":17.565},{"p":"D","k":"c","s":"UTP","r":"D11","i":6,"h":2.368,"c":17.526},{"p":"D","k":"c","s":"UTP","r":"D11","i":7,"h":2.3476,"c":17.565},
{"p":"D","k":"c","s":"UTP","r":"D12","i":0,"h":2.3472,"c":17.645},{"p":"D","k":"c","s":"UTP","r":"D12","i":1,"h":2.3533,"c":17.71},{"p":"D","k":"c","s":"UTP","r":"D12","i":2,"h":2.368,"c":17.737},{"p":"D","k":"c","s":"UTP","r":"D12","i":3,"h":2.3827,"c":17.71},{"p":"D","k":"c","s":"UTP","r":"D12","i":4,"h":2.3888,"c":17.645},{"p":"D","k":"c","s":"UTP","r":"D12","i":5,"h":2.3827,"c":17.58},{"p":"D","k":"c","s":"UTP","r":"D12","i":6,"h":2.368,"c":17.553},{"p":"D","k":"c","s":"UTP","r":"D12","i":7,"h":2.3533,"c":17.58},
{"p":"D","k":"c","s":"UTP","r":"D13","i":0,"h":2.3559,"c":17.63},{"p":"D","k":"c","s":"UTP","r":"D13","i":1,"h":2.3594,"c":17.6689},{"p":"D","k":"c","s":"UTP","r":"D13","i":2,"h":2.368,"c":17.685},{"p":"D","k":"c","s":"UTP","r":"D13","i":3,"h":2.3766,"c":17.6689},{"p":"D","k":"c","s":"UTP","r":"D13","i":4,"h":2.3801,"c":17.63},{"p":"D","k":"c","s":"UTP","r":"D13","i":5,"h":2.3766,"c":17.5911},{"p":"D","k":"c","s":"UTP","r":"D13","i":6,"h":2.368,"c":17.575},{"p":"D","k":"c","s":"UTP","r":"D13","i":7,"h":2.3594,"c":17.5911},
{"p":"D","k":"c","s":"CTP","r":"D14","i":0,"h":2.3606,"c":17.264},{"p":"D","k":"c","s":"CTP","r":"D14","i":1,"h":2.3361,"c":17.324},{"p":"D","k":"c","s":"CTP","r":"D14","i":2,"h":2.3288,"c":17.478},{"p":"D","k":"c","s":"CTP","r":"D14","i":3,"h":2.3435,"c":17.615},{"p":"D","k":"c","s":"CTP","r":"D14","i":4,"h":2.3727,"c":17.665},{"p":"D","k":"c","s":"CTP","r":"D14","i":5,"h":2.3873,"c":17.731},{"p":"D","k":"c","s":"CTP","r":"D14","i":6,"h":2.3961,"c":17.819},{"p":"D","k":"c","s":"CTP","r":"D14","i":7,"h":2.4108,"c":17.83},{"p":"D","k":"c","s":"CTP","r":"D14","i":8,"h":2.4049,"c":17.747},{"p":"D","k":"c","s":"CTP","r":"D14","i":9,"h":2.3961,"c":17.637},{"p":"D","k":"c","s":"CTP","r":"D14","i":10,"h":2.3932,"c":17.445},{"p":"D","k":"c","s":"CTP","r":"D14","i":11,"h":2.383,"c":17.319},
{"p":"D","k":"c","s":"CTP","r":"D15","i":0,"h":2.3376,"c":17.484},{"p":"D","k":"c","s":"CTP","r":"D15","i":1,"h":2.3491,"c":17.5886},{"p":"D","k":"c","s":"CTP","r":"D15","i":2,"h":2.3684,"c":17.632},{"p":"D","k":"c","s":"CTP","r":"D15","i":3,"h":2.3843,"c":17.5886},{"p":"D","k":"c","s":"CTP","r":"D15","i":4,"h":2.3874,"c":17.484},{"p":"D","k":"c","s":"CTP","r":"D15","i":5,"h":2.3759,"c":17.3794},{"p":"D","k":"c","s":"CTP","r":"D15","i":6,"h":2.3566,"c":17.336},{"p":"D","k":"c","s":"CTP","r":"D15","i":7,"h":2.3407,"c":17.3794},
{"p":"D","k":"c","s":"CTP","r":"D16","i":0,"h":2.3482,"c":17.486},{"p":"D","k":"c","s":"CTP","r":"D16","i":1,"h":2.3511,"c":17.5426},{"p":"D","k":"c","s":"CTP","r":"D16","i":2,"h":2.358,"c":17.566},{"p":"D","k":"c","s":"CTP","r":"D16","i":3,"h":2.3649,"c":17.5426},{"p":"D","k":"c","s":"CTP","r":"D16","i":4,"h":2.3678,"c":17.486},{"p":"D","k":"c","s":"CTP","r":"D16","i":5,"h":2.3649,"c":17.4294},{"p":"D","k":"c","s":"CTP","r":"D16","i":6,"h":2.358,"c":17.406},{"p":"D","k":"c","s":"CTP","r":"D16","i":7,"h":2.3511,"c":17.4294},
{"p":"A","k":"L","s":"apo","t":"A","h":2.6097,"c":16.608},
{"p":"B","k":"L","s":"apo","t":"B","h":2.617,"c":16.608},
{"p":"C","k":"L","s":"apo","t":"C","h":2.6156,"c":16.57},
{"p":"D","k":"L","s":"apo","t":"D","h":2.617,"c":16.57},
{"p":"A","k":"t","s":"apo","t":"WT","h":2.4898,"c":16.636},
{"p":"A","k":"t","s":"apo","t":"+RNA(3'H)","h":2.4898,"c":16.744},
{"p":"A","k":"t","s":"UTP","t":"+RNA(3'H):UTP","h":2.4898,"c":16.863},
{"p":"A","k":"t","s":"CTP","t":"+RNA(3'H):CTP","h":2.4898,"c":16.974},
{"p":"A","k":"t","s":"apo","t":"M187 resonances","h":2.4898,"c":18.191},
{"p":"B","k":"t","s":"apo","t":"K167R","h":2.487,"c":16.636},
{"p":"C","k":"t","s":"apo","t":"R174K","h":2.495,"c":16.6425},
{"p":"D","k":"t","s":"apo","t":"K359R","h":2.487,"c":16.6425}
]},
"columns": 2,
"spacing": {"row": 48, "column": 100},
"bounds": "flush",
"concat": [
 {"transform": [{"filter": "datum.p == 'A'"}], "width": 205, "height": 369,
  "encoding": {
    "x": {"field": "h", "type": "quantitative", "scale": {"domain": [2.2, 2.5], "reverse": true, "zero": false, "nice": false}, "axis": {"values": [2.5, 2.4, 2.3, 2.2], "format": ".2f", "title": "¹H (ppm)"}},
    "y": {"field": "c", "type": "quantitative", "scale": {"domain": [16.5, 18.5], "reverse": true, "zero": false, "nice": false}, "axis": {"values": [17, 17.5, 18], "format": ".2f", "title": "¹³C (ppm)"}},
    "color": {"field": "s", "type": "nominal", "scale": {"domain": ["apo", "UTP", "CTP"], "range": ["#000000", "#1a3ae6", "#33e8aa"]}, "legend": null}},
  "layer": [
    {"transform": [{"filter": "datum.k == 'c'"}], "mark": {"type": "line", "interpolate": "cardinal-closed", "clip": true, "strokeWidth": 2.8}, "encoding": {"detail": {"field": "r"}, "order": {"field": "i", "type": "quantitative"}}},
    {"transform": [{"filter": "datum.k == 't'"}], "mark": {"type": "text", "align": "left", "baseline": "alphabetic", "fontSize": 23}, "encoding": {"text": {"field": "t"}}},
    {"transform": [{"filter": "datum.k == 'L'"}], "mark": {"type": "text", "align": "left", "baseline": "alphabetic", "fontSize": 22}, "encoding": {"text": {"field": "t"}}}]},
 {"transform": [{"filter": "datum.p == 'B'"}], "width": 205, "height": 369,
  "encoding": {
    "x": {"field": "h", "type": "quantitative", "scale": {"domain": [2.2, 2.5], "reverse": true, "zero": false, "nice": false}, "axis": {"values": [2.5, 2.4, 2.3, 2.2], "format": ".2f", "title": "¹H (ppm)"}},
    "y": {"field": "c", "type": "quantitative", "scale": {"domain": [16.5, 18.5], "reverse": true, "zero": false, "nice": false}, "axis": {"values": [17, 17.5, 18], "format": ".2f", "title": "¹³C (ppm)"}},
    "color": {"field": "s", "type": "nominal", "scale": {"domain": ["apo", "UTP", "CTP"], "range": ["#000000", "#1a3ae6", "#33e8aa"]}, "legend": null}},
  "layer": [
    {"transform": [{"filter": "datum.k == 'c'"}], "mark": {"type": "line", "interpolate": "cardinal-closed", "clip": true, "strokeWidth": 2.8}, "encoding": {"detail": {"field": "r"}, "order": {"field": "i", "type": "quantitative"}}},
    {"transform": [{"filter": "datum.k == 't'"}], "mark": {"type": "text", "align": "left", "baseline": "alphabetic", "fontSize": 23}, "encoding": {"text": {"field": "t"}}},
    {"transform": [{"filter": "datum.k == 'L'"}], "mark": {"type": "text", "align": "left", "baseline": "alphabetic", "fontSize": 22}, "encoding": {"text": {"field": "t"}}}]},
 {"transform": [{"filter": "datum.p == 'C'"}], "width": 205, "height": 369,
  "encoding": {
    "x": {"field": "h", "type": "quantitative", "scale": {"domain": [2.2, 2.5], "reverse": true, "zero": false, "nice": false}, "axis": {"values": [2.5, 2.4, 2.3, 2.2], "format": ".2f", "title": "¹H (ppm)"}},
    "y": {"field": "c", "type": "quantitative", "scale": {"domain": [16.5, 18.5], "reverse": true, "zero": false, "nice": false}, "axis": {"values": [17, 17.5, 18], "format": ".2f", "title": "¹³C (ppm)"}},
    "color": {"field": "s", "type": "nominal", "scale": {"domain": ["apo", "UTP", "CTP"], "range": ["#000000", "#1a3ae6", "#33e8aa"]}, "legend": null}},
  "layer": [
    {"transform": [{"filter": "datum.k == 'c'"}], "mark": {"type": "line", "interpolate": "cardinal-closed", "clip": true, "strokeWidth": 2.8}, "encoding": {"detail": {"field": "r"}, "order": {"field": "i", "type": "quantitative"}}},
    {"transform": [{"filter": "datum.k == 't'"}], "mark": {"type": "text", "align": "left", "baseline": "alphabetic", "fontSize": 23}, "encoding": {"text": {"field": "t"}}},
    {"transform": [{"filter": "datum.k == 'L'"}], "mark": {"type": "text", "align": "left", "baseline": "alphabetic", "fontSize": 22}, "encoding": {"text": {"field": "t"}}}]},
 {"transform": [{"filter": "datum.p == 'D'"}], "width": 205, "height": 369,
  "encoding": {
    "x": {"field": "h", "type": "quantitative", "scale": {"domain": [2.2, 2.5], "reverse": true, "zero": false, "nice": false}, "axis": {"values": [2.5, 2.4, 2.3, 2.2], "format": ".2f", "title": "¹H (ppm)"}},
    "y": {"field": "c", "type": "quantitative", "scale": {"domain": [16.5, 18.5], "reverse": true, "zero": false, "nice": false}, "axis": {"values": [17, 17.5, 18], "format": ".2f", "title": "¹³C (ppm)"}},
    "color": {"field": "s", "type": "nominal", "scale": {"domain": ["apo", "UTP", "CTP"], "range": ["#000000", "#1a3ae6", "#33e8aa"]}, "legend": null}},
  "layer": [
    {"transform": [{"filter": "datum.k == 'c'"}], "mark": {"type": "line", "interpolate": "cardinal-closed", "clip": true, "strokeWidth": 2.8}, "encoding": {"detail": {"field": "r"}, "order": {"field": "i", "type": "quantitative"}}},
    {"transform": [{"filter": "datum.k == 't'"}], "mark": {"type": "text", "align": "left", "baseline": "alphabetic", "fontSize": 23}, "encoding": {"text": {"field": "t"}}},
    {"transform": [{"filter": "datum.k == 'L'"}], "mark": {"type": "text", "align": "left", "baseline": "alphabetic", "fontSize": 22}, "encoding": {"text": {"field": "t"}}}]}
],
"config": {
  "view": {"stroke": "#000000", "strokeWidth": 4},
  "font": "Liberation Sans",
  "text": {"font": "Liberation Sans"},
  "axis": {"domain": false, "ticks": false, "tickSize": 0, "grid": false,
    "labelFont": "Liberation Sans", "labelFontSize": 21.5, "labelColor": "#000000",
    "titleFont": "Liberation Sans", "titleFontSize": 22, "titleFontWeight": "normal", "titleColor": "#000000",
    "labelFlush": false, "labelOverlap": false},
  "axisX": {"labelPadding": 2, "titlePadding": -4},
  "axisY": {"labelPadding": 3, "titlePadding": -2}
}
}
